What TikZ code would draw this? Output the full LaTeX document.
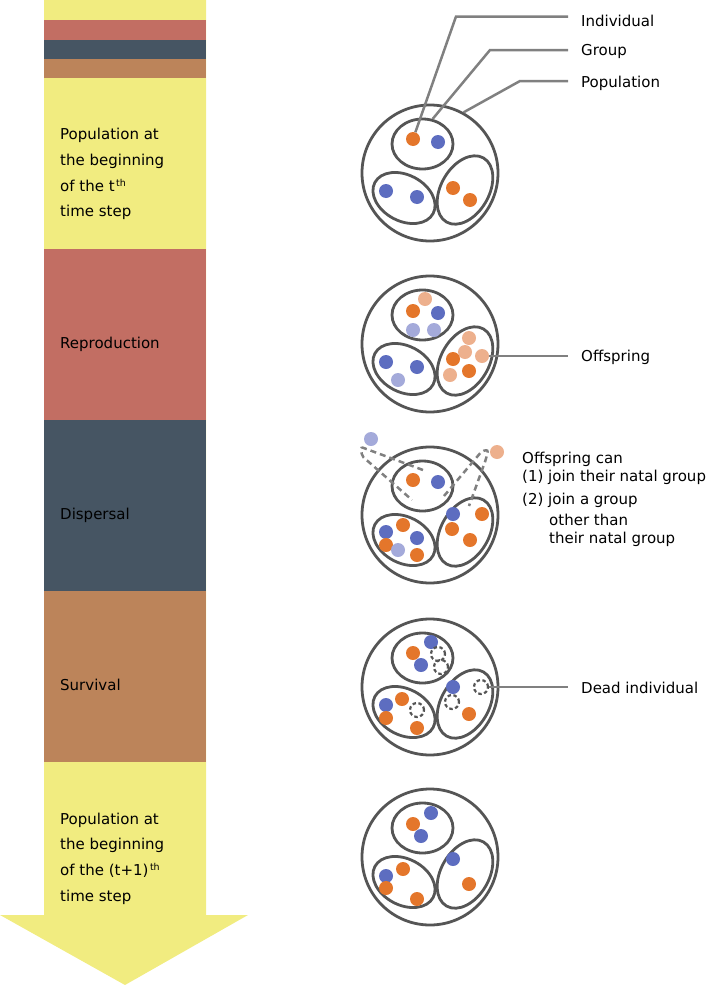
\documentclass[tikz,border=0pt]{standalone}
\usepackage{fontspec}
\setmainfont{DejaVu Sans}
\usetikzlibrary{shapes.geometric}
\definecolor{barY}{HTML}{F1EC80}
\definecolor{barR}{HTML}{C26E63}
\definecolor{barD}{HTML}{465563}
\definecolor{barB}{HTML}{BC845A}
\definecolor{cdark}{HTML}{555555}
\definecolor{cgray}{HTML}{808080}
\definecolor{cblue}{HTML}{5D6DC0}
\definecolor{corange}{HTML}{E4762B}
\definecolor{clblue}{HTML}{A4AADA}
\definecolor{clorange}{HTML}{EDB08D}
\newcommand{\thsup}{\kern1.5pt\raisebox{5pt}{\fontsize{9.5}{10}\selectfont th}}
\begin{document}
\begin{tikzpicture}[x=1pt,y=-1pt,
  outer/.style={circle, draw=cdark, line width=2.8pt, minimum size=136pt, inner sep=0pt},
  grp/.style={ellipse, draw=cdark, line width=2.8pt, inner sep=0pt},
  ga/.style={grp, minimum width=61pt, minimum height=50pt},
  gb/.style={grp, minimum width=66pt, minimum height=46pt, rotate=-28},
  gc/.style={grp, minimum width=74pt, minimum height=48pt, rotate=60},
  dotb/.style={circle, inner sep=0pt, minimum size=14pt},
  dB/.style={dotb, fill=cblue},
  dO/.style={dotb, fill=corange},
  dLB/.style={dotb, fill=clblue},
  dLO/.style={dotb, fill=clorange},
  deadc/.style={circle, inner sep=0pt, minimum size=14pt, draw=cdark, line width=2.2pt, dash pattern=on 3.5pt off 2.5pt},
  lead/.style={draw=cgray, line width=2.5pt},
  dpath/.style={draw=cgray, line width=2.5pt, dash pattern=on 6pt off 4pt, rounded corners=2pt},
  lbl/.style={anchor=base west, inner sep=0pt, font=\fontsize{15}{18}\selectfont}
]
\useasboundingbox (0,0) rectangle (712,985);

% ---- left arrow bar ----
\fill[barY] (44,0) -- (206,0) -- (206,915) -- (248,915) -- (125,985) -- (0,915) -- (44,915) -- cycle;
\fill[barR] (44,20) rectangle (206,39.5);
\fill[barD] (44,39.5) rectangle (206,58.5);
\fill[barB] (44,58.5) rectangle (206,77.5);
\fill[barR] (44,249) rectangle (206,420);
\fill[barD] (44,420) rectangle (206,591);
\fill[barB] (44,591) rectangle (206,762);

\node[lbl] (T1a) at (60,139.3) {Population at};
\node[lbl] (T1b) at (60,165.5) {the beginning};
\node[lbl] (T1c) at (60,191) {of the t\thsup};
\node[lbl] (T1d) at (60,216.7) {time step};
\node[lbl] (T2) at (60,348.5) {Reproduction};
\node[lbl] (T3) at (60,519.5) {Dispersal};
\node[lbl] (T4) at (60,690.5) {Survival};
\node[lbl] (T5a) at (60,824) {Population at};
\node[lbl] (T5b) at (60,849.5) {the beginning};
\node[lbl] (T5c) at (60,875) {of the (t+1)\thsup};
\node[lbl] (T5d) at (60,901) {time step};

% ---- panel 1 ----
\begin{scope}[shift={(430,173)}]
\node[outer] (P1) at (0,0) {};
\node[ga] (G1a) at (-7.5,-29) {};
\node[gb] (G1b) at (-26,25) {};
\node[gc] (G1c) at (35,17) {};
\node[dO] (I1) at (-17,-34) {};
\node[dB] (d1b) at (8,-31) {};
\node[dB] (d1c) at (-44,18) {};
\node[dB] (d1d) at (-13,24) {};
\node[dO] (d1e) at (23,15) {};
\node[dO] (d1f) at (40,27) {};
\end{scope}
\coordinate (Eind) at (568,16.5);
\coordinate (Egrp) at (568,50);
\coordinate (Epop) at (568,81);
\draw[lead] (I1) -- (456,16.5) -- (Eind);
\draw[lead] (G1a.68) -- (490,50) -- (Egrp);
\draw[lead] (P1.61) -- (520,81) -- (Epop);
\node[lbl] (Lind) at (581,26.7) {Individual};
\node[lbl] (Lgrp) at (581,55.5) {Group};
\node[lbl] (Lpop) at (581,87.3) {Population};

% ---- panel 2 ----
\begin{scope}[shift={(430,344)}]
\node[outer] (P2) at (0,0) {};
\node[ga] (G2a) at (-7.5,-29) {};
\node[gb] (G2b) at (-26,25) {};
\node[gc] (G2c) at (35,17) {};
\node[dLO] (d2a) at (-5,-45) {};
\node[dO] (d2b) at (-17,-33) {};
\node[dB] (d2c) at (8,-31) {};
\node[dLB] (d2d) at (-17,-14) {};
\node[dLB] (d2e) at (4,-14) {};
\node[dB] (d2f) at (-44,18) {};
\node[dB] (d2g) at (-13,23) {};
\node[dLB] (d2h) at (-32,36) {};
\node[dLO] (d2i) at (39,-6) {};
\node[dLO] (d2j) at (35,8) {};
\node[dLO] (O2) at (52,12) {};
\node[dO] (d2l) at (23,15) {};
\node[dO] (d2m) at (39,27) {};
\node[dLO] (d2n) at (20,31) {};
\end{scope}
\coordinate (Eoff) at (568,356);
\draw[lead] (O2) -- (Eoff);
\node[lbl] (Loff) at (581,361.7) {Offspring};

% ---- panel 3 ----
\begin{scope}[shift={(430,515)}]
\node[outer] (P3) at (0,0) {};
\node[ga] (G3a) at (-7.5,-29) {};
\node[gb] (G3b) at (-26,25) {};
\node[gc] (G3c) at (35,17) {};
\draw[dpath] (-7,-45) -- (-69,-68) -- (-68,-59) -- (-18,-15);
\draw[dpath] (14,-19) -- (52,-64) -- (58,-65) -- (56,-56) -- (39,-9);
\node[dLB] (d3a) at (-59,-76) {};
\node[dLO] (d3b) at (67,-63) {};
\node[dO] (d3c) at (-17,-35) {};
\node[dB] (d3d) at (8,-33) {};
\node[dB] (d3e) at (23,-1) {};
\node[dO] (d3f) at (52,-1) {};
\node[dO] (d3g) at (22,14) {};
\node[dO] (d3h) at (40,25) {};
\node[dB] (d3i) at (-44,17) {};
\node[dO] (d3j) at (-27,10) {};
\node[dB] (d3k) at (-13,23) {};
\node[dO] (d3l) at (-44,30) {};
\node[dLB] (d3m) at (-32,35) {};
\node[dO] (d3n) at (-13,40) {};
\end{scope}
\node[lbl] (Lc1) at (522,463.3) {Offspring can};
\node[lbl] (Lc2) at (522,481.5) {(1) join their natal group};
\node[lbl] (Lc3) at (522,504) {(2) join a group};
\node[lbl] (Lc4) at (549,525.5) {other than};
\node[lbl] (Lc5) at (549,543) {their natal group};

% ---- panel 4 ----
\begin{scope}[shift={(430,687)}]
\node[outer] (P4) at (0,0) {};
\node[ga] (G4a) at (-7.5,-29) {};
\node[gb] (G4b) at (-26,25) {};
\node[gc] (G4c) at (35,17) {};
\node[dB] (d4a) at (1,-45) {};
\node[dO] (d4b) at (-17,-34) {};
\node[dB] (d4c) at (-9,-22) {};
\node[deadc] (x4a) at (8,-33) {};
\node[deadc] (x4b) at (11,-20) {};
\node[dB] (d4d) at (23,0) {};
\node[deadc] (X4) at (51,0) {};
\node[deadc] (x4d) at (22,15) {};
\node[dO] (d4e) at (39,27) {};
\node[dB] (d4f) at (-44,18) {};
\node[dO] (d4g) at (-28,12) {};
\node[dO] (d4h) at (-44,31) {};
\node[deadc] (x4e) at (-13,23) {};
\node[dO] (d4i) at (-13,41) {};
\end{scope}
\coordinate (Edead) at (568,687);
\draw[lead] (X4) -- (Edead);
\node[lbl] (Ldead) at (581,693.3) {Dead individual};

% ---- panel 5 ----
\begin{scope}[shift={(430,857)}]
\node[outer] (P5) at (0,0) {};
\node[ga] (G5a) at (-7.5,-29) {};
\node[gb] (G5b) at (-26,25) {};
\node[gc] (G5c) at (35,17) {};
\node[dB] (d5a) at (1,-44) {};
\node[dO] (d5b) at (-17,-33) {};
\node[dB] (d5c) at (-9,-21) {};
\node[dB] (d5d) at (23,2) {};
\node[dO] (d5e) at (39,27) {};
\node[dB] (d5f) at (-44,19) {};
\node[dO] (d5g) at (-27,12) {};
\node[dO] (d5h) at (-44,31) {};
\node[dO] (d5i) at (-13,42) {};
\end{scope}
\end{tikzpicture}
\end{document}
